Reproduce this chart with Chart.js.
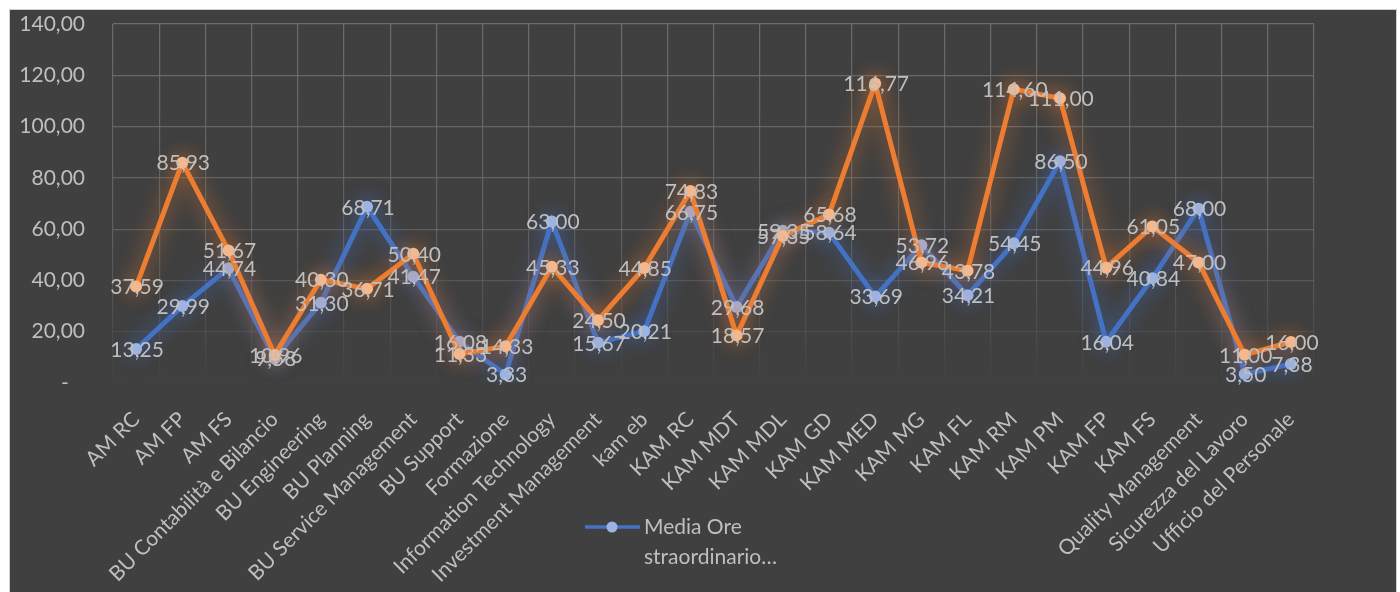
<!DOCTYPE html>
<html>
<head>
<meta charset="utf-8">
<script src="https://cdn.jsdelivr.net/npm/chart.js@4/dist/chart.umd.min.js"></script>
<style>
  html, body { margin: 0; padding: 0; background: #ffffff; }
  canvas { display: block; }
</style>
</head>
<body>
<canvas id="c" width="1400" height="592"></canvas>
<script>
// ---- data ----
const categories = [
  'AM RC', 'AM FP', 'AM FS', 'BU Contabilità e Bilancio', 'BU Engineering',
  'BU Planning', 'BU Service Management', 'BU Support', 'Formazione',
  'Information Technology', 'Investment Management', 'kam eb', 'KAM RC',
  'KAM MDT', 'KAM MDL', 'KAM GD', 'KAM MED', 'KAM MG', 'KAM FL', 'KAM RM',
  'KAM PM', 'KAM FP', 'KAM FS', 'Quality Management', 'Sicurezza del Lavoro',
  'Ufficio del Personale'
];
const mediaOreStraordinario = [
  13.25, 29.99, 44.74, 9.58, 31.30, 68.71, 41.47, 16.08, 3.33, 63.00,
  15.67, 20.21, 66.75, 29.68, 59.35, 58.64, 33.69, 53.72, 34.21, 54.45,
  86.50, 16.04, 40.84, 68.00, 3.50, 7.38
];
const secondSeries = [
  37.59, 85.93, 51.67, 10.96, 40.30, 36.71, 50.40, 11.33, 14.33, 45.33,
  24.50, 44.85, 74.83, 18.57, 57.35, 65.68, 116.77, 46.96, 43.78, 114.60,
  111.00, 44.96, 61.05, 47.00, 11.00, 16.00
];
const legendLines = ['Media Ore', 'straordinario…'];
const yTickValues = [0, 20, 40, 60, 80, 100, 120, 140];

// ---- helpers ----
const TEXT = '#bfbfbf';
const FONT = 'Lato, "Open Sans", sans-serif';
const fmt = v => v.toFixed(2).replace('.', ',');

const panelPlugin = {
  id: 'panel',
  beforeDraw(chart) {
    const ctx = chart.ctx;
    ctx.save();
    ctx.fillStyle = '#ffffff';
    ctx.fillRect(0, 0, chart.width, chart.height);
    ctx.fillStyle = '#404040';
    ctx.fillRect(9.5, 9.5, 1387, 600);
    ctx.strokeStyle = '#d0d0d0';
    ctx.lineWidth = 1;
    ctx.strokeRect(9.5, 9.5, 1387, 600);
    ctx.restore();
  }
};

const glowPlugin = {
  id: 'glow',
  beforeDatasetDraw(chart, args) {
    const ctx = chart.ctx;
    ctx.save();
    ctx.shadowColor = chart.data.datasets[args.index].glow;
    ctx.shadowBlur = 20;
  },
  afterDatasetDraw(chart) {
    chart.ctx.restore();
  }
};

const labelPlugin = {
  id: 'valueLabels',
  afterDatasetsDraw(chart) {
    const ctx = chart.ctx;
    ctx.save();
    ctx.font = '21px ' + FONT;
    ctx.fillStyle = TEXT;
    ctx.textAlign = 'center';
    ctx.textBaseline = 'middle';
    chart.data.datasets.forEach((ds, i) => {
      const meta = chart.getDatasetMeta(i);
      meta.data.forEach((pt, j) => {
        ctx.fillText(fmt(ds.data[j]), pt.x + 1, pt.y + 1);
      });
    });
    ctx.restore();
  }
};

const legendPlugin = {
  id: 'customLegend',
  afterDraw(chart) {
    const ctx = chart.ctx;
    const ds = chart.data.datasets.find(d => d.showInLegend);
    ctx.save();
    ctx.strokeStyle = ds.borderColor;
    ctx.lineWidth = 3.5;
    ctx.beginPath();
    ctx.moveTo(585, 527);
    ctx.lineTo(640, 527);
    ctx.stroke();
    ctx.fillStyle = ds.pointBackgroundColor;
    ctx.beginPath();
    ctx.arc(612, 527, 5.5, 0, Math.PI * 2);
    ctx.fill();
    ctx.font = '21px ' + FONT;
    ctx.fillStyle = TEXT;
    ctx.textAlign = 'left';
    ctx.textBaseline = 'middle';
    legendLines.forEach((t, k) => ctx.fillText(t, 644, 527 + k * 30));
    ctx.restore();
  }
};

function gridGradient(context) {
  const chart = context.chart;
  const area = chart.chartArea;
  if (!area) return '#5a5a5a';
  const g = chart.ctx.createLinearGradient(0, area.top, 0, area.bottom);
  g.addColorStop(0, 'rgba(110,110,110,0.95)');
  g.addColorStop(0.6, 'rgba(110,110,110,0.65)');
  g.addColorStop(0.9, 'rgba(110,110,110,0.2)');
  g.addColorStop(1, 'rgba(110,110,110,0)');
  return g;
}

new Chart(document.getElementById('c'), {
  type: 'line',
  data: {
    labels: categories,
    datasets: [
      {
        label: '',
        data: secondSeries,
        borderColor: '#ED7D31',
        backgroundColor: '#ED7D31',
        pointBackgroundColor: '#F5B88E',
        pointBorderColor: '#F5B88E',
        glow: 'rgba(237,125,49,0.8)',
        borderWidth: 5,
        pointRadius: 6,
        pointBorderWidth: 0,
        tension: 0,
        order: 1
      },
      {
        label: 'Media Ore straordinario…',
        data: mediaOreStraordinario,
        borderColor: '#4472C4',
        backgroundColor: '#4472C4',
        pointBackgroundColor: '#9DB3E2',
        pointBorderColor: '#9DB3E2',
        glow: 'rgba(68,114,196,0.85)',
        showInLegend: true,
        borderWidth: 5,
        pointRadius: 6,
        pointBorderWidth: 0,
        tension: 0,
        order: 2
      }
    ]
  },
  options: {
    responsive: false,
    animation: false,
    devicePixelRatio: 1,
    layout: { padding: { top: 24, right: 86, left: 0, bottom: 0 } },
    plugins: {
      legend: { display: false },
      tooltip: { enabled: false },
      title: { display: false }
    },
    scales: {
      x: {
        offset: true,
        grid: { offset: true, color: gridGradient, lineWidth: 1.2, drawTicks: false },
        border: { display: false },
        ticks: {
          autoSkip: false,
          minRotation: 45,
          maxRotation: 45,
          padding: 24,
          color: TEXT,
          font: { family: FONT, size: 21 }
        },
        afterFit(scale) { scale.height = 209; }
      },
      y: {
        min: 0,
        max: 140,
        grid: {
          color: gridGradient, lineWidth: 1.2,
          drawTicks: true, tickLength: 28, tickColor: 'rgba(0,0,0,0)'
        },
        border: { display: false },
        afterBuildTicks(scale) { scale.ticks = yTickValues.map(v => ({ value: v })); },
        ticks: {
          padding: 0,
          color: TEXT,
          font: { family: FONT, size: 21 },
          callback: v => (v === 0 ? '-   ' : fmt(v))
        },
        afterFit(scale) { scale.width = 113; }
      }
    }
  },
  plugins: [panelPlugin, glowPlugin, labelPlugin, legendPlugin]
});
</script>
</body>
</html>
